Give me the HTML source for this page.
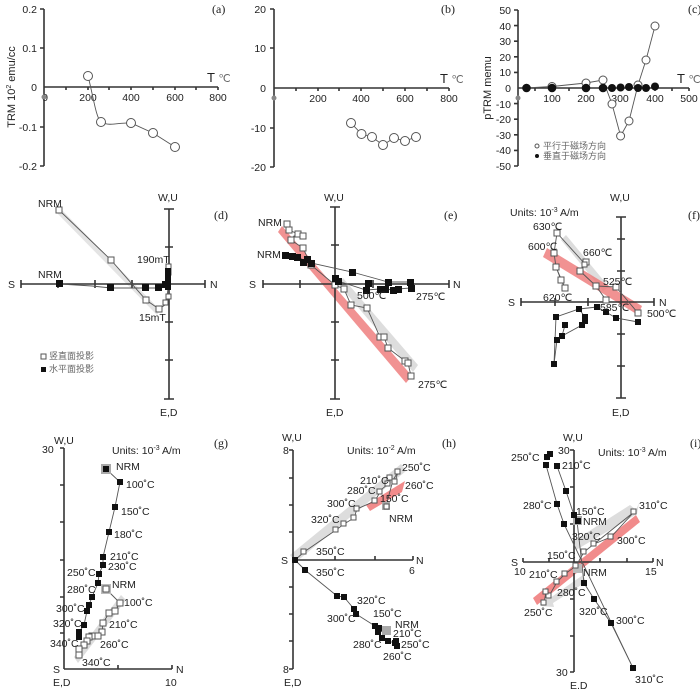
<!DOCTYPE html>
<html><head><meta charset="utf-8"><style>
html,body{margin:0;padding:0;background:#fff;}
svg{display:block;font-family:"Liberation Sans",sans-serif;}
.t{font-size:10.5px;fill:#222;}
.p{font-family:"Liberation Serif",serif;font-size:12px;fill:#222;}
.cn{font-family:"Liberation Sans","Noto Sans CJK SC",sans-serif;font-size:9px;fill:#666;}
.ax{stroke:#333;stroke-width:1.6;fill:none;}
.ln{stroke:#555;stroke-width:0.9;fill:none;}
.o{fill:#fff;stroke:#555;stroke-width:1;}
.f{fill:#111;}
</style></head><body>
<svg width="700" height="689" viewBox="0 0 700 689">
<!-- (a) -->
<g>
<line class="ax" x1="44" y1="9" x2="44" y2="166"/>
<line class="ax" x1="44" y1="87" x2="218" y2="87"/>
<g class="ax" stroke-width="1"><path d="M40 9h4M40 48h4M40 127h4M40 166h4M66 87v3M88 87v3M109 87v3M131 87v3M153 87v3M175 87v3M196 87v3M218 87v3"/></g>
<g class="t" text-anchor="end"><text x="37" y="13">0.2</text><text x="37" y="52">0.1</text><text x="37" y="91">0</text><text x="37" y="131">-0.1</text><text x="37" y="170">-0.2</text></g>
<g class="t" text-anchor="middle"><text x="45" y="101">0</text><text x="88" y="101">200</text><text x="131" y="101">400</text><text x="175" y="101">600</text><text x="218" y="101">800</text></g>
<circle cx="44" cy="97" r="2.5" fill="#888"/>
<text x="207" y="82" font-size="13" fill="#222">T <tspan font-size="11" fill="#666">℃</tspan></text>
<text class="p" x="212" y="13">(a)</text>
<text transform="translate(15,87) rotate(-90)" text-anchor="middle" font-size="11" fill="#222">TRM 10<tspan font-size="7" dy="-4">2</tspan><tspan dy="4"> emu/cc</tspan></text>
<path class="ln" d="M88 76 C93 95,96 118,101 122 C110 127,120 122,131 123 L153 133 L175 147"/>
<g class="o" fill="none"><circle cx="88" cy="76" r="4.5"/><circle cx="101" cy="122" r="4.5"/><circle cx="131" cy="123" r="4.5"/><circle cx="153" cy="133" r="4.5"/><circle cx="175" cy="147" r="4.5"/></g>
</g>
<!-- (b) -->
<g>
<line class="ax" x1="274" y1="9" x2="274" y2="167"/>
<line class="ax" x1="274" y1="88" x2="449" y2="88"/>
<g class="ax" stroke-width="1"><path d="M270 9h4M270 48h4M270 128h4M270 167h4M296 88v3M318 88v3M339 88v3M361 88v3M383 88v3M405 88v3M427 88v3M449 88v3"/></g>
<g class="t" text-anchor="end"><text x="266" y="13">20</text><text x="266" y="52">10</text><text x="266" y="92">0</text><text x="266" y="132">-10</text><text x="266" y="171">-20</text></g>
<g class="t" text-anchor="middle"><text x="318" y="102">200</text><text x="361" y="102">400</text><text x="405" y="102">600</text><text x="449" y="102">800</text></g>
<circle cx="274" cy="98" r="2.5" fill="#888"/>
<text x="440" y="83" font-size="13" fill="#222">T <tspan font-size="11" fill="#666">℃</tspan></text>
<text class="p" x="441" y="13">(b)</text>
<path class="ln" d="M351 123 L361.5 134 L372 137 L383 145 L394 138 L405 141 L416 137"/>
<g class="o"><circle cx="351" cy="123" r="4.5"/><circle cx="361.5" cy="134" r="4.5"/><circle cx="372" cy="137" r="4.5"/><circle cx="383" cy="145" r="4.5"/><circle cx="394" cy="138" r="4.5"/><circle cx="405" cy="141" r="4.5"/><circle cx="416" cy="137" r="4.5"/></g>
</g>
<!-- (c) -->
<g>
<line class="ax" x1="518" y1="10" x2="518" y2="166"/>
<line class="ax" x1="518" y1="88" x2="689" y2="88"/>
<g class="ax" stroke-width="1"><path d="M514 10h4M514 25.6h4M514 41.2h4M514 56.8h4M514 72.4h4M514 103.6h4M514 119.2h4M514 134.8h4M514 150.4h4M514 166h4M535 88v3M552 88v3M569 88v3M586 88v3M603 88v3M620 88v3M638 88v3M655 88v3M672 88v3M689 88v3"/></g>
<g class="t" text-anchor="end"><text x="511" y="14">50</text><text x="511" y="30">40</text><text x="511" y="45">30</text><text x="511" y="61">20</text><text x="511" y="76">10</text><text x="511" y="92">0</text><text x="511" y="108">-10</text><text x="511" y="123">-20</text><text x="511" y="139">-30</text><text x="511" y="154">-40</text><text x="511" y="170">-50</text></g>
<g class="t" text-anchor="middle"><text x="552" y="102">100</text><text x="586" y="102">200</text><text x="620" y="102">300</text><text x="655" y="102">400</text><text x="689" y="102">500</text></g>
<circle cx="518" cy="98" r="2.5" fill="#888"/>
<text transform="translate(491,88) rotate(-90)" text-anchor="middle" font-size="11" fill="#222">pTRM memu</text>
<text x="677" y="83" font-size="13" fill="#222">T <tspan font-size="11" fill="#666">℃</tspan></text>
<text class="p" x="688" y="13">(c)</text>
<path class="ln" d="M526 88 L552 86.5 L586 83 L603 80 L612 104 L620.6 136 L629 121 L638 85 L646 60 L655 26"/>
<g class="o"><circle cx="552" cy="86.5" r="4"/><circle cx="586" cy="83" r="4"/><circle cx="603" cy="80" r="4"/><circle cx="612" cy="104" r="4"/><circle cx="620.6" cy="136" r="4"/><circle cx="629" cy="121" r="4"/><circle cx="638" cy="85" r="4"/><circle cx="646" cy="60" r="4"/><circle cx="655" cy="26" r="4"/></g>
<g class="f"><circle cx="526.5" cy="88" r="4.3"/><circle cx="552" cy="88" r="4.3"/><circle cx="586" cy="88" r="4.3"/><circle cx="603" cy="88" r="4.3"/><circle cx="612" cy="88" r="4"/><circle cx="620.6" cy="87.5" r="4"/><circle cx="629" cy="87" r="4"/><circle cx="638" cy="88" r="4"/><circle cx="646" cy="88" r="4"/><circle cx="655" cy="86.5" r="4"/></g>
<circle cx="537" cy="146" r="2" fill="none" stroke="#555"/><text class="cn" x="543" y="149">平行于磁场方向</text>
<circle cx="537" cy="156" r="2" fill="#111"/><text class="cn" x="543" y="159">垂直于磁场方向</text>
</g>
<!-- (d) -->
<g>
<path d="M60 208 L160 310 L157 315 L56 212Z" fill="#ddd" opacity="0.8"/>
<line class="ax" x1="21" y1="284" x2="205" y2="284"/>
<line class="ax" x1="169" y1="209" x2="169" y2="399"/>
<g class="ax"><path d="M21 280v8M58 280v8M95 280v8M132 280v8M205 280v8M164 209h10M165 247h8M165 322h8M165 360h8M164 399h10"/></g>
<text class="t" x="8" y="288" font-size="11">S</text><text class="t" x="210" y="288" font-size="11">N</text>
<text class="t" x="158" y="201" font-size="11">W,U</text><text class="t" x="160" y="416" font-size="11">E,D</text>
<text class="p" x="214" y="219">(d)</text>
<path class="ln" d="M59 210 L111 260 L146 300 L159 309 L165 305 L167 298 L168 288 L169 265"/>
<g class="o"><rect x="56" y="207" width="6" height="6"/><rect x="108" y="257" width="6" height="6"/><rect x="143" y="297" width="6" height="6"/><rect x="156" y="306" width="6" height="6"/><rect x="163" y="300" width="5" height="5"/><rect x="166" y="294" width="5" height="5"/><rect x="166" y="264" width="5" height="5"/><rect x="166" y="270" width="5" height="5"/></g>
<path class="ln" d="M60 284 L92 286 L111 288 L146 288 L159 288 L166 286"/>
<g class="f"><rect x="56" y="280" width="7" height="7"/><rect x="107" y="284" width="7" height="7"/><rect x="142" y="284" width="7" height="7"/><rect x="155" y="284" width="7" height="7"/><rect x="165" y="268" width="6" height="22"/><rect x="162" y="281" width="7" height="7"/></g>
<g class="t"><text x="38" y="207">NRM</text><text x="38" y="278">NRM</text><text x="137" y="263">190mT</text><text x="139" y="321">15mT</text></g>
<rect x="41" y="354" width="5" height="5" fill="none" stroke="#555"/><text class="cn" x="49" y="359">竖直面投影</text>
<rect x="41" y="367" width="5" height="5" fill="#111"/><text class="cn" x="49" y="372">水平面投影</text>
</g>
<!-- (e) -->
<g>
<path d="M343 278 L418 365 L413 372 L339 285Z" fill="#ddd"/>
<path d="M282 226 L412 376 L406 383 L278 232Z" fill="#ee7777" opacity="0.8"/>
<line class="ax" x1="263" y1="284" x2="449" y2="284"/>
<line class="ax" x1="335" y1="207" x2="335" y2="399"/>
<g class="ax"><path d="M263 280v8M300 280v8M373 280v8M411 280v8M449 280v8M330 207h10M331 245h8M331 322h8M331 360h8M330 399h10"/></g>
<text class="t" x="249" y="288" font-size="11">S</text><text class="t" x="453" y="288" font-size="11">N</text>
<text class="t" x="324" y="201" font-size="11">W,U</text><text class="t" x="326" y="416" font-size="11">E,D</text>
<text class="p" x="444" y="219">(e)</text>
<path class="ln" d="M287 224 L289 230 L298 234 L303 236 L294 236 L291 240 L303 248 L311 265 L335 285 L344 289 L351 305 L367 308 L380 337 L384 337 L388 348 L405 361 L408 363 L411 376"/>
<g class="o"><rect x="284" y="221" width="6" height="6"/><rect x="286" y="227" width="6" height="6"/><rect x="295" y="231" width="6" height="6"/><rect x="300" y="233" width="6" height="6"/><rect x="288" y="237" width="6" height="6"/><rect x="300" y="245" width="6" height="6"/><rect x="308" y="262" width="6" height="6"/><rect x="332" y="282" width="6" height="6"/><rect x="341" y="286" width="6" height="6"/><rect x="348" y="302" width="6" height="6"/><rect x="364" y="305" width="6" height="6"/><rect x="377" y="334" width="6" height="6"/><rect x="381" y="334" width="6" height="6"/><rect x="385" y="345" width="6" height="6"/><rect x="402" y="358" width="6" height="6"/><rect x="405" y="360" width="6" height="6"/><rect x="408" y="373" width="6" height="6"/></g>
<path class="ln" d="M285 255 L297 257 L311 263 L352 272 L388 282 L410 282 L411 288 L398 289 L393 290 L385 289 L380 289 L366 290 L338 281 L335 278"/>
<g class="f"><rect x="282" y="252" width="7" height="7"/><rect x="289" y="253" width="7" height="7"/><rect x="294" y="254" width="7" height="7"/><rect x="300" y="259" width="7" height="7"/><rect x="304" y="256" width="7" height="7"/><rect x="308" y="260" width="7" height="7"/><rect x="349" y="269" width="7" height="7"/><rect x="365" y="280" width="7" height="7"/><rect x="385" y="279" width="7" height="7"/><rect x="407" y="279" width="7" height="7"/><rect x="408" y="285" width="7" height="7"/><rect x="395" y="286" width="7" height="7"/><rect x="390" y="287" width="7" height="7"/><rect x="382" y="286" width="7" height="7"/><rect x="377" y="286" width="7" height="7"/><rect x="363" y="287" width="7" height="7"/><rect x="335" y="278" width="7" height="7"/><rect x="332" y="275" width="7" height="7"/></g>
<g class="t"><text x="258" y="226">NRM</text><text x="257" y="258">NRM</text><text x="357" y="299">500℃</text><text x="416" y="300">275℃</text><text x="418" y="388">275℃</text></g>
</g>
<!-- (f) -->
<g>
<path d="M566 235 L609 287 L603 291 L561 240Z" fill="#ddd"/>
<path d="M547 248 L642 306 L638 315 L543 257Z" fill="#ee7777" opacity="0.8"/>
<line class="ax" x1="521" y1="302" x2="654" y2="302"/>
<line class="ax" x1="621" y1="217" x2="621" y2="398"/>
<g class="ax"><path d="M521 298v8M555 298v8M588 298v8M654 298v8M616 217h10M617 239h8M617 271h8M617 334h8M617 366h8M616 398h10"/></g>
<text class="t" x="508" y="306" font-size="11">S</text><text class="t" x="659" y="306" font-size="11">N</text>
<text class="t" x="610" y="201" font-size="11">W,U</text><text class="t" x="612" y="416" font-size="11">E,D</text>
<text class="p" x="688" y="219">(f)</text>
<text class="t" x="510" y="216">Units: 10<tspan font-size="7" dy="-4">-3</tspan><tspan dy="4"> A/m</tspan></text>
<path class="ln" d="M638 313 L616 287 L596 286 L580 271 L586 262 L585 264 L557 233 L554 253 L556 267 L561 280 L565 288 L556 267"/>
<path class="ln" d="M596 286 L606 300"/>
<g class="o"><rect x="635" y="310" width="6" height="6"/><rect x="613" y="284" width="6" height="6"/><rect x="593" y="283" width="6" height="6"/><rect x="577" y="268" width="6" height="6"/><rect x="583" y="259" width="6" height="6"/><rect x="582" y="262" width="5" height="5"/><rect x="554" y="230" width="6" height="6"/><rect x="551" y="250" width="6" height="6"/><rect x="553" y="264" width="6" height="6"/><rect x="558" y="277" width="6" height="6"/><rect x="562" y="285" width="6" height="6"/><rect x="603" y="297" width="6" height="6"/></g>
<path class="ln" d="M638 322 L616 318 L606 312 L597 307 L579 309 L556 317 L554 364 L557 340 L562 336 L565 325 M562 336 L582 325 L585 317 L579 309"/>
<g class="f"><rect x="635" y="319" width="6" height="6"/><rect x="613" y="315" width="6" height="6"/><rect x="603" y="309" width="6" height="6"/><rect x="594" y="304" width="6" height="6"/><rect x="576" y="306" width="6" height="6"/><rect x="553" y="314" width="6" height="6"/><rect x="551" y="361" width="6" height="6"/><rect x="554" y="337" width="6" height="6"/><rect x="559" y="333" width="6" height="6"/><rect x="562" y="322" width="6" height="6"/><rect x="579" y="322" width="6" height="6"/><rect x="582" y="314" width="6" height="6"/><rect x="582" y="318" width="6" height="6"/></g>
<g class="t"><text x="533" y="230">630℃</text><text x="528" y="250">600℃</text><text x="583" y="256">660℃</text><text x="603" y="285">525℃</text><text x="543" y="301">620℃</text><text x="600" y="311">585℃</text><text x="647" y="317">500℃</text></g>
</g>
<!-- (g) -->
<g>
<path d="M74 657 L121 595 L126 600 L78 663Z" fill="#ddd"/>
<line class="ax" x1="64" y1="448" x2="64" y2="669"/>
<line class="ax" x1="64" y1="669" x2="172" y2="669"/>
<g class="ax" stroke-width="1"><path d="M60 448h4M60 485h4M60 522h4M60 560h4M60 597h4M60 633h4M118 669v-4M172 669v-4"/></g>
<g class="t" font-size="11"><text x="54" y="444">W,U</text><text x="42" y="453">30</text><text x="53" y="673">S</text><text x="53" y="686">E,D</text><text x="176" y="673">N</text><text x="165" y="686">10</text></g>
<text class="p" x="214" y="447">(g)</text>
<text class="t" x="112" y="454" font-size="11">Units: 10<tspan font-size="7" dy="-4">-3</tspan><tspan dy="4"> A/m</tspan></text>
<path class="ln" d="M106 469 L120 482 L115 507 L109 532 L103 557 L103 565 L99 574 L98 583 L92 597 L89 605 L87 611 L84 625 L79 632 L79 637"/>
<rect x="101" y="464" width="10" height="10" fill="#aaa"/>
<g class="f"><rect x="103" y="466" width="6" height="6"/><rect x="117" y="479" width="6" height="6"/><rect x="112" y="504" width="6" height="6"/><rect x="106" y="529" width="6" height="6"/><rect x="100" y="554" width="6" height="6"/><rect x="100" y="562" width="6" height="6"/><rect x="96" y="571" width="6" height="6"/><rect x="95" y="580" width="6" height="6"/><rect x="89" y="594" width="6" height="6"/><rect x="86" y="602" width="6" height="6"/><rect x="84" y="608" width="6" height="6"/><rect x="81" y="622" width="6" height="6"/><rect x="76" y="629" width="6" height="6"/><rect x="76" y="634" width="6" height="6"/></g>
<path class="ln" d="M106 589 L120 603 L115 611 L109 613 L103 623 L102 632 L98 636 L92 636 L89 637 L87 641 L84 645 L79 649 L79 655"/>
<rect x="101" y="584" width="10" height="10" fill="#bbb"/>
<g class="o"><rect x="103" y="586" width="6" height="6"/><rect x="117" y="600" width="6" height="6"/><rect x="112" y="608" width="6" height="6"/><rect x="106" y="610" width="6" height="6"/><rect x="100" y="620" width="6" height="6"/><rect x="99" y="629" width="6" height="6"/><rect x="95" y="633" width="6" height="6"/><rect x="89" y="633" width="6" height="6"/><rect x="86" y="634" width="6" height="6"/><rect x="84" y="638" width="6" height="6"/><rect x="81" y="642" width="6" height="6"/><rect x="76" y="646" width="6" height="6"/><rect x="76" y="652" width="6" height="6"/></g>
<g class="t"><text x="116" y="470">NRM</text><text x="126" y="488">100˚C</text><text x="121" y="515">150˚C</text><text x="114" y="538">180˚C</text><text x="110" y="560">210˚C</text><text x="108" y="570">230˚C</text><text x="67" y="576">250˚C</text><text x="67" y="593">280˚C</text><text x="56" y="612">300˚C</text><text x="53" y="627">320˚C</text><text x="50" y="647">340˚C</text><text x="112" y="588">NRM</text><text x="124" y="606">100˚C</text><text x="109" y="628">210˚C</text><text x="100" y="648">260˚C</text><text x="82" y="666">340˚C</text></g>
</g>
<!-- (h) -->
<g>
<path d="M290 555 L401 464 L406 471 L296 562Z" fill="#ddd"/>
<path d="M366 505 L405 481 L402 492 L370 511Z" fill="#ee7777" opacity="0.85"/>
<line class="ax" x1="293" y1="450" x2="293" y2="669"/>
<line class="ax" x1="293" y1="560" x2="413" y2="560"/>
<g class="ax" stroke-width="1"><path d="M289 450h4M289 478h4M289 505h4M289 532h4M289 587h4M289 614h4M289 641h4M289 669h4M335 560v-4M375 560v-4M413 560v-4"/></g>
<g class="t" font-size="11"><text x="282" y="441">W,U</text><text x="283" y="454">8</text><text x="281" y="564">S</text><text x="416" y="564">N</text><text x="409" y="574">6</text><text x="283" y="673">8</text><text x="284" y="686">E,D</text></g>
<text class="p" x="442" y="447">(h)</text>
<text class="t" x="347" y="454" font-size="11">Units: 10<tspan font-size="7" dy="-4">-2</tspan><tspan dy="4"> A/m</tspan></text>
<path class="ln" d="M295 560 L304 552 L336 530 L344 524 L354 518 L357 509 L375 501 L380 492 L382 489 L388 484 L390 478 L395 482 L398 472 L393 480 L386 506"/>
<rect x="382" y="502" width="8" height="8" fill="#aaa"/>
<g class="o"><rect x="301" y="549" width="5" height="5"/><rect x="333" y="527" width="5" height="5"/><rect x="341" y="521" width="5" height="5"/><rect x="351" y="515" width="5" height="5"/><rect x="354" y="506" width="5" height="5"/><rect x="372" y="498" width="5" height="5"/><rect x="377" y="489" width="5" height="5"/><rect x="385" y="481" width="5" height="5"/><rect x="387" y="475" width="5" height="5"/><rect x="392" y="479" width="5" height="5"/><rect x="395" y="469" width="5" height="5"/><rect x="384" y="504" width="5" height="5"/></g>
<path class="ln" d="M295 560 L305 570 L337 596 L344 597 L354 609 L356 614 L375 626 L379 628 L378 632 L386 631 L382 638 L388 641 L395 643 L396 641 L397 646"/>
<rect x="382" y="626" width="9" height="9" fill="#aaa"/>
<g class="f"><rect x="292" y="557" width="6" height="6"/><rect x="302" y="567" width="6" height="6"/><rect x="334" y="593" width="6" height="6"/><rect x="341" y="594" width="6" height="6"/><rect x="351" y="606" width="6" height="6"/><rect x="353" y="611" width="6" height="6"/><rect x="372" y="623" width="6" height="6"/><rect x="376" y="625" width="6" height="6"/><rect x="375" y="629" width="6" height="6"/><rect x="379" y="635" width="6" height="6"/><rect x="385" y="638" width="6" height="6"/><rect x="392" y="640" width="6" height="6"/><rect x="393" y="638" width="6" height="6"/><rect x="394" y="643" width="6" height="6"/></g>
<g class="t"><text x="402" y="471">250˚C</text><text x="360" y="484">210˚C</text><text x="347" y="494">280˚C</text><text x="327" y="507">300˚C</text><text x="311" y="523">320˚C</text><text x="380" y="502">150˚C</text><text x="405" y="489">260˚C</text><text x="389" y="522">NRM</text><text x="316" y="555">350˚C</text><text x="316" y="576">350˚C</text><text x="357" y="604">320˚C</text><text x="327" y="622">300˚C</text><text x="373" y="617">150˚C</text><text x="395" y="628">NRM</text><text x="393" y="637">210˚C</text><text x="353" y="648">280˚C</text><text x="401" y="648">250˚C</text><text x="383" y="660">260˚C</text></g>
</g>
<!-- (i) -->
<g>
<path d="M572 542 L630 505 L636 510 L639 503 L637 514 L576 550Z" fill="#ddd"/>
<path d="M583 575 L550 598 L552 590 L541 606 L554 607 L553 603 L586 582Z" fill="#ddd"/>
<path d="M533 598 L636 515 L640 522 L537 605Z" fill="#ee7777" opacity="0.85"/>
<line class="ax" x1="574" y1="450" x2="574" y2="672"/>
<line class="ax" x1="523" y1="562" x2="653" y2="562"/>
<g class="ax" stroke-width="1"><path d="M570 450h4M570 487h4M570 524h4M570 599h4M570 636h4M570 672h4M523 562v-4M549 562v-4M600 562v-4M627 562v-4M653 562v-4"/></g>
<g class="t" font-size="11"><text x="563" y="441">W,U</text><text x="558" y="454">30</text><text x="511" y="566">S</text><text x="656" y="566">N</text><text x="514" y="575">10</text><text x="645" y="575">15</text><text x="556" y="676">30</text><text x="570" y="689">E,D</text></g>
<text class="p" x="690" y="447">(i)</text>
<text class="t" x="598" y="456" font-size="11">Units: 10<tspan font-size="7" dy="-4">-3</tspan><tspan dy="4"> A/m</tspan></text>
<path class="ln" d="M547 457 L550 454 M546 465 L557 504 L564 524 L633 668 M557 466 L566 491 L574 515 L577 521 L584 583 L594 599 L611 623 L633 668"/>
<rect x="573" y="516" width="9" height="9" fill="#aaa"/>
<g class="f"><rect x="544" y="454" width="6" height="6"/><rect x="547" y="451" width="6" height="6"/><rect x="543" y="462" width="6" height="6"/><rect x="554" y="463" width="6" height="6"/><rect x="563" y="488" width="6" height="6"/><rect x="554" y="501" width="6" height="6"/><rect x="561" y="521" width="6" height="6"/><rect x="571" y="512" width="6" height="6"/><rect x="575" y="518" width="6" height="6"/><rect x="581" y="580" width="6" height="6"/><rect x="591" y="596" width="6" height="6"/><rect x="608" y="620" width="6" height="6"/><rect x="630" y="665" width="6" height="6"/></g>
<path class="ln" d="M634 512 L611 537 L594 544 L584 552 L576 566 L565 574 L557 582 L549 596 L546 592 L544 603 M634 512 L584 552"/>
<rect x="573" y="564" width="9" height="9" fill="#bbb"/>
<g class="o"><rect x="631" y="509" width="5" height="5"/><rect x="608" y="534" width="5" height="5"/><rect x="591" y="541" width="5" height="5"/><rect x="581" y="549" width="5" height="5"/><rect x="573" y="563" width="5" height="5"/><rect x="562" y="571" width="5" height="5"/><rect x="554" y="579" width="5" height="5"/><rect x="546" y="593" width="5" height="5"/><rect x="543" y="589" width="5" height="5"/><rect x="541" y="600" width="5" height="5"/></g>
<g class="t"><text x="511" y="461">250˚C</text><text x="562" y="469">210˚C</text><text x="523" y="509">280˚C</text><text x="576" y="515">150˚C</text><text x="583" y="525">NRM</text><text x="572" y="540">320˚C</text><text x="639" y="509">310˚C</text><text x="617" y="544">300˚C</text><text x="547" y="559">150˚C</text><text x="583" y="576">NRM</text><text x="529" y="578">210˚C</text><text x="557" y="596">280˚C</text><text x="524" y="616">250˚C</text><text x="579" y="615">320˚C</text><text x="616" y="624">300˚C</text><text x="635" y="683">310˚C</text></g>
</g>
</svg>
</body></html>
